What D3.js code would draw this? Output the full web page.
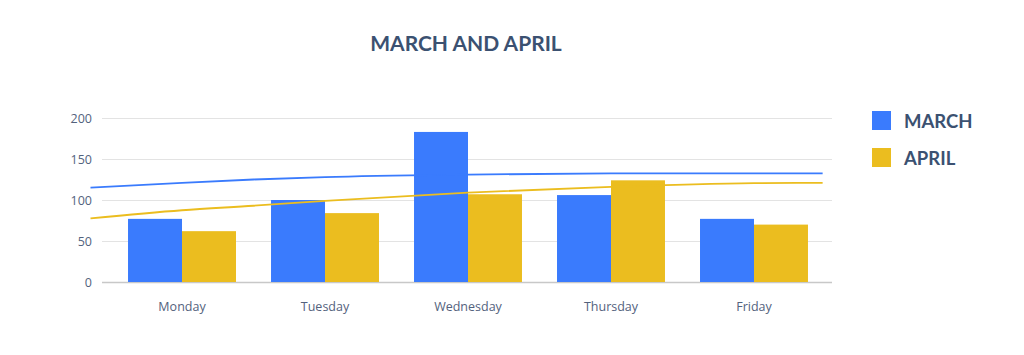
<!DOCTYPE html>
<html>
<head>
<meta charset="utf-8">
<script src="https://cdn.jsdelivr.net/npm/d3@7"></script>
<style>
  html, body { margin: 0; padding: 0; background: #fff; }
  svg { display: block; }
</style>
</head>
<body>
<div id="chart"></div>
<script>
const days = ["Monday", "Tuesday", "Wednesday", "Thursday", "Friday"];
const seriesNames = ["MARCH", "APRIL"];
const march = [77, 100, 183, 106, 77];
const april = [62, 84, 107, 124, 70];
const yTicks = [0, 50, 100, 150, 200];

// trend lines: [day index, value]
const marchTrend = [[-0.64, 115], [0, 121], [0.5, 125], [1, 128], [2, 131], [3, 132.5], [4, 132.5], [4.48, 132.5]];
const aprilTrend = [[-0.64, 77.5], [0, 87.5], [0.5, 93], [1, 99], [2, 109], [3, 116], [4, 120.5], [4.48, 121]];

const COLORS = ["#3a7bfd", "#ebbd1f"];
const TEXT = "#53627d";
const TITLE = "#3b5171";

const W = 1024, H = 355;
const MARGIN = { top: 118, right: 192, bottom: 73, left: 102 };

const svg = d3.select("#chart").append("svg").attr("width", W).attr("height", H);

const x0 = d3.scaleBand()
  .domain(days)
  .range([MARGIN.left + 2, W - MARGIN.right])
  .paddingInner(0.245)
  .paddingOuter(0.168);
const x1 = d3.scaleBand().domain(seriesNames).range([0, x0.bandwidth()]);
const y = d3.scaleLinear().domain([0, 200]).range([H - MARGIN.bottom, MARGIN.top]);

// index -> pixel for trend lines, tied to band centers
const xi = d3.scaleLinear()
  .domain([0, days.length - 1])
  .range([x0(days[0]) + x0.bandwidth() / 2, x0(days[days.length - 1]) + x0.bandwidth() / 2]);

// title
svg.append("text")
  .attr("x", 466)
  .attr("y", 51)
  .attr("text-anchor", "middle")
  .attr("font-family", "Lato, sans-serif")
  .attr("font-weight", 700)
  .attr("font-size", 21)
  .attr("fill", TITLE)
  .text("MARCH AND APRIL");

// gridlines + y labels
const yAxis = svg.append("g")
  .attr("transform", `translate(${MARGIN.left},0)`)
  .call(d3.axisLeft(y).tickValues(yTicks).tickSize(-(W - MARGIN.left - MARGIN.right)).tickPadding(10))
  .call((g) => g.select(".domain").remove());
yAxis.selectAll(".tick line")
  .attr("stroke", (d) => (d === 0 ? "#c8c8c8" : "#e3e3e3"))
  .attr("stroke-width", (d) => (d === 0 ? 1.5 : 1));
yAxis.selectAll(".tick text")
  .attr("font-family", "'Open Sans', sans-serif")
  .attr("font-size", 12.5)
  .attr("fill", TEXT);

// bars
const groups = svg.append("g")
  .selectAll("g")
  .data(days)
  .join("g")
  .attr("transform", (d) => `translate(${x0(d)},0)`);

groups.selectAll("rect")
  .data((d, i) => [{ key: "MARCH", v: march[i] }, { key: "APRIL", v: april[i] }])
  .join("rect")
  .attr("x", (d) => x1(d.key))
  .attr("y", (d) => y(d.v))
  .attr("width", x1.bandwidth())
  .attr("height", (d) => y(0) - y(d.v))
  .attr("fill", (d, i) => COLORS[i]);

// trend lines
const line = d3.line()
  .x((d) => xi(d[0]))
  .y((d) => y(d[1]))
  .curve(d3.curveMonotoneX);

[marchTrend, aprilTrend].forEach((pts, i) => {
  svg.append("path")
    .attr("d", line(pts))
    .attr("fill", "none")
    .attr("stroke", COLORS[i])
    .attr("stroke-width", 1.8);
});

// x labels
svg.append("g")
  .attr("transform", `translate(0,${y(0)})`)
  .call(d3.axisBottom(x0).tickSize(0).tickPadding(20))
  .call((g) => g.select(".domain").remove())
  .selectAll("text")
  .attr("font-family", "'Open Sans', sans-serif")
  .attr("font-size", 12.5)
  .attr("fill", TEXT);

// legend
const legend = svg.append("g")
  .selectAll("g")
  .data(seriesNames)
  .join("g")
  .attr("transform", (d, i) => `translate(872,${111 + i * 37})`);
legend.append("rect")
  .attr("width", 19)
  .attr("height", 19)
  .attr("fill", (d, i) => COLORS[i]);
legend.append("text")
  .attr("x", 32)
  .attr("y", 17)
  .attr("font-family", "Lato, sans-serif")
  .attr("font-weight", 700)
  .attr("font-size", 18.5)
  .attr("fill", TITLE)
  .text((d) => d);
</script>
</body>
</html>
